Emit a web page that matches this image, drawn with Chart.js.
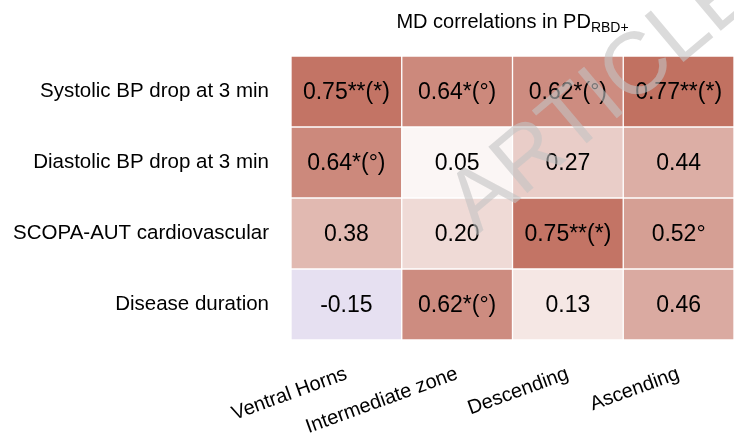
<!DOCTYPE html>
<html>
<head>
<meta charset="utf-8">
<script src="https://cdn.jsdelivr.net/npm/chart.js@4"></script>
<style>
  html, body { margin: 0; padding: 0; background: #fff; }
  #wrap { width: 734px; height: 441px; }
</style>
</head>
<body>
<div id="wrap"><canvas id="heatmap"></canvas></div>
<script>
const rowLabels = ['Systolic BP drop at 3 min', 'Diastolic BP drop at 3 min', 'SCOPA-AUT cardiovascular', 'Disease duration'];
const colLabels = ['Ventral Horns', 'Intermediate zone', 'Descending', 'Ascending'];

// correlation per row (top to bottom), one value per column
const systolicValues = [0.75, 0.64, 0.62, 0.77];
const diastolicValues = [0.64, 0.05, 0.27, 0.44];
const scopaValues = [0.38, 0.20, 0.75, 0.52];
const durationValues = [-0.15, 0.62, 0.13, 0.46];

// significance marks printed after each value
const systolicMarks = ['**(*)', '*(°)', '*(°)', '**(*)'];
const diastolicMarks = ['*(°)', '', '', ''];
const scopaMarks = ['', '', '**(*)', '°'];
const durationMarks = ['', '*(°)', '', ''];

const cellValues = [systolicValues, diastolicValues, scopaValues, durationValues];
const cellMarks = [systolicMarks, diastolicMarks, scopaMarks, durationMarks];

const FONT = "Arial, 'Liberation Sans', sans-serif";

// white -> brick red for positive, white -> lavender for negative
function cellColor(v) {
    let r, g, b;
    if (v >= 0) {
        r = 255 - 80 * v;
        g = 255 - 185 * v;
        b = 255 - 205 * v;
    } else {
        const a = -v;
        r = 255 - 167 * a;
        g = 255 - 207 * a;
        b = 255 - 93 * a;
    }
    return `rgb(${Math.round(r)}, ${Math.round(g)}, ${Math.round(b)})`;
}

const datasets = cellValues.map((vals, r) => ({
    label: rowLabels[r],
    data: colLabels.map(() => 1),
    backgroundColor: vals.map(cellColor),
    borderColor: '#ffffff',
    borderWidth: 1,
    borderSkipped: false,
    categoryPercentage: 1,
    barPercentage: 1,
}));

const cellText = {
    id: 'cellText',
    afterDatasetsDraw(chart) {
        const ctx = chart.ctx;
        ctx.save();
        ctx.font = `23px ${FONT}`;
        ctx.fillStyle = '#000';
        ctx.textAlign = 'center';
        ctx.textBaseline = 'middle';
        chart.data.datasets.forEach((ds, r) => {
            const meta = chart.getDatasetMeta(r);
            meta.data.forEach((bar, c) => {
                const txt = cellValues[r][c].toFixed(2) + cellMarks[r][c];
                ctx.fillText(txt, bar.x, (bar.y + bar.base) / 2 + 1);
            });
        });
        ctx.restore();
    },
    afterDraw(chart) {
        const ctx = chart.ctx;
        ctx.save();
        // title with subscript
        const main = 'MD correlations in PD';
        const sub = 'RBD+';
        ctx.font = `20px ${FONT}`;
        const w1 = ctx.measureText(main).width;
        ctx.font = `14px ${FONT}`;
        const w2 = ctx.measureText(sub).width;
        const cx = (chart.chartArea.left + chart.chartArea.right) / 2;
        const x0 = cx - (w1 + w2) / 2;
        ctx.fillStyle = '#000';
        ctx.textBaseline = 'alphabetic';
        ctx.textAlign = 'left';
        ctx.font = `20px ${FONT}`;
        ctx.fillText(main, x0, 28);
        ctx.font = `14px ${FONT}`;
        ctx.fillText(sub, x0 + w1, 32);

        // watermark
        ctx.translate(603, 98);
        ctx.rotate(-40 * Math.PI / 180);
        ctx.font = `88px ${FONT}`;
        ctx.textAlign = 'center';
        ctx.textBaseline = 'middle';
        ctx.fillStyle = 'rgba(195, 195, 195, 0.6)';
        ctx.fillText('ARTICLE', 0, 0);
        ctx.restore();
    }
};

Chart.defaults.font.family = FONT;
Chart.defaults.color = '#000';

new Chart(document.getElementById('heatmap'), {
    type: 'bar',
    data: { labels: colLabels, datasets: datasets },
    options: {
        responsive: true,
        maintainAspectRatio: false,
        animation: false,
        layout: { padding: { top: 56, left: 0, right: 0, bottom: 0 } },
        plugins: {
            legend: { display: false },
            tooltip: { enabled: false },
        },
        scales: {
            x: {
                stacked: true,
                grid: { display: false, drawTicks: false },
                border: { display: false },
                ticks: {
                    font: { size: 20 },
                    minRotation: 20,
                    maxRotation: 20,
                    padding: 22,
                },
                afterFit(scale) { scale.height = 101; },
            },
            y: {
                stacked: true,
                reverse: true,
                min: 0,
                max: 4,
                grid: { display: false, drawTicks: false },
                border: { display: false },
                ticks: {
                    font: { size: 20.5 },
                    padding: 22,
                    callback: (value) => rowLabels[Math.floor(value)],
                },
                afterBuildTicks(scale) {
                    scale.ticks = rowLabels.map((_, i) => ({ value: i + 0.5 }));
                },
                afterFit(scale) { scale.width = 291; },
            },
        },
    },
    plugins: [cellText],
});
</script>
</body>
</html>
